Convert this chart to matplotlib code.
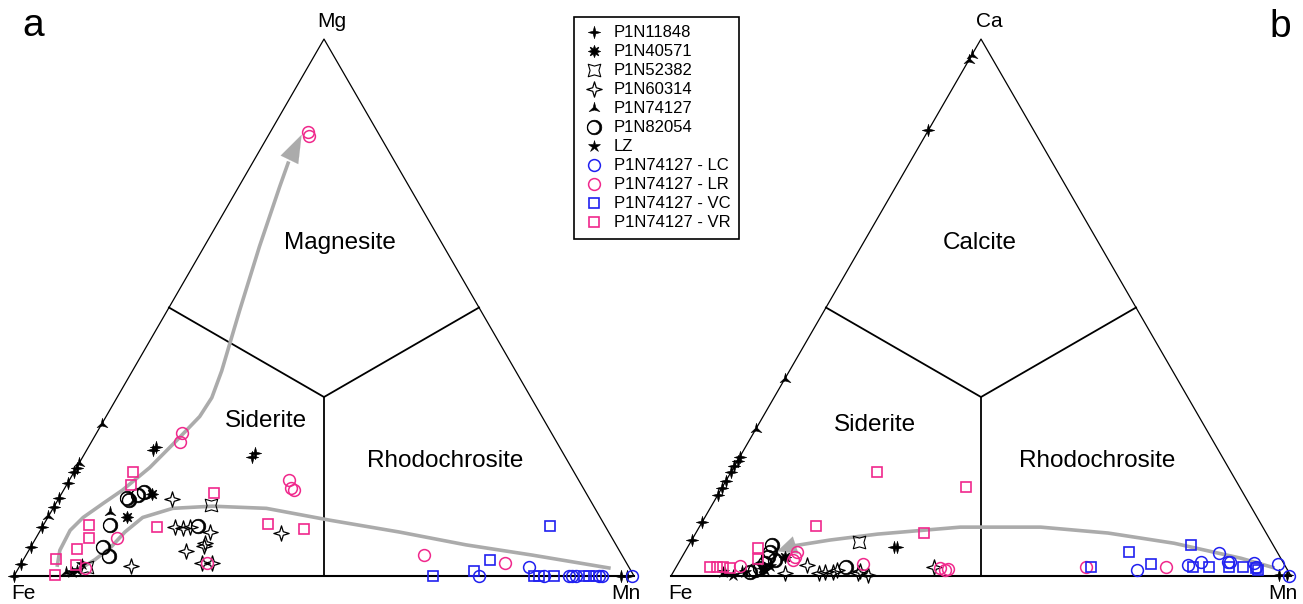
import numpy as np
import matplotlib.pyplot as plt
from matplotlib.lines import Line2D
from matplotlib.path import Path

plt.rcParams["font.family"] = ["Liberation Sans", "DejaVu Sans"]

# Compositions, in percent: (Mn, top apex). Fe is the rest.
# Panel a: Fe - Mn - Mg
A_P1N11848 = [(0, 0), (0, 2.2), (0, 5.4), (0, 9.1), (0, 12.8), (0, 14.5), (0, 17.4), (0, 19.3),
              (0, 20.2), (10.7, 23.4), (10.8, 24.1), (27.3, 22.1), (27.3, 23.0), (97.9, 0), (98.9, 0)]
A_P1N40571 = [(14.6, 15.2), (12.7, 10.9)]
A_P1N52382 = [(25.1, 13.2), (10.9, 1.7)]
A_P1N60314 = [(18.3, 14.3), (21.4, 9.1), (22.8, 8.9), (23.8, 9.1), (27.5, 8.2), (39.1, 8.0),
              (25.4, 4.6), (27.8, 5.6), (27.7, 6.1), (30.8, 2.4), (29.2, 2.4), (17.9, 1.9)]
A_P1N74127 = [(0, 11.1), (0, 21.0), (0, 28.4), (9.5, 11.9), (8.0, 0.7)]
A_P1N82054 = [(10.9, 14.5), (11.5, 14.1), (12.5, 15.0), (13.1, 15.6), (10.7, 9.5), (11.6, 5.4),
              (13.4, 3.7), (25.0, 9.3)]
A_LZ = [(9.6, 1.1), (9.8, 2.2), (9.0, 0.7)]
A_LC = [(75.0, 0), (82.2, 1.7), (85.5, 0), (89.5, 0), (90.0, 0), (90.6, 0), (94.3, 0), (94.8, 0), (99.7, 0)]
A_LR = [(6.0, 82.7), (6.5, 82.0), (13.7, 26.7), (14.2, 25.0), (35.5, 17.8), (36.6, 16.3), (37.1, 16.0),
        (13.1, 7.0), (29.9, 2.4), (10.7, 1.5), (64.1, 3.9), (78.0, 2.4)]
A_VC = [(67.6, 0), (73.8, 0.9), (75.3, 3.0), (81.8, 9.3), (83.9, 0), (84.7, 0), (87.1, 0), (91.9, 0),
        (92.7, 0), (93.9, 0)]
A_VR = [(9.5, 19.3), (10.5, 16.9), (7.3, 9.5), (8.6, 7.0), (7.6, 5.0), (5.2, 3.2), (9.0, 2.0), (6.5, 0.2),
        (24.5, 15.4), (18.5, 9.1), (36.1, 9.6), (42.5, 8.7)]

# Panel b: Fe - Mn - Ca
B_P1N11848 = [(0, 6.7), (0, 10.0), (0, 15.0), (0, 16.3), (0, 17.6), (0, 19.3), (0, 20.4), (0, 21.5),
              (0, 22.2), (0, 83.0), (33.2, 5.4), (33.8, 5.4), (98.0, 0.2), (99.2, 0.2)]
B_P1N40571 = [(16.7, 3.5), (14.1, 1.5)]
B_P1N52382 = [(27.2, 6.3)]
B_P1N60314 = [(21.0, 2.0), (18.1, 0.6), (23.5, 0.6), (24.5, 0.7), (25.7, 0.7), (26.3, 1.1), (29.8, 0.6),
              (31.6, 0.2), (41.5, 1.7), (30.1, 0.9)]
B_P1N74127 = [(0, 97.0), (0, 96.1), (0, 36.7), (0, 27.4), (8.4, 0.6), (11.0, 0.9)]
B_P1N82054 = [(13.5, 5.7), (13.8, 4.4), (13.9, 3.5), (15.3, 3.0), (14.0, 2.4), (13.0, 1.1), (12.4, 0.7),
              (27.3, 1.7), (13.6, 1.5)]
B_LZ = [(8.0, 0.7), (9.9, 0.2), (11.6, 0.7), (14.6, 1.1), (15.0, 1.9)]
B_LC = [(74.6, 1.1), (82.4, 2.0), (84.2, 2.6), (86.2, 4.3), (88.5, 2.6), (88.9, 2.6), (92.9, 2.4),
        (93.5, 1.7), (96.8, 2.2), (99.7, 0)]
B_LR = [(10.2, 1.9), (18.2, 4.4), (18.3, 3.5), (18.2, 3.0), (29.9, 2.2), (42.7, 1.5), (43.7, 1.1),
        (44.1, 1.3), (66.1, 1.7), (79.0, 1.7)]
B_VC = [(66.9, 1.7), (71.7, 4.4), (76.3, 2.2), (81.0, 5.7), (83.3, 1.7), (85.9, 1.7), (89.1, 1.7),
        (91.4, 1.7), (93.6, 1.5), (94.1, 1.1)]
B_VR = [(5.5, 1.7), (6.6, 1.7), (7.6, 1.7), (8.8, 1.5), (11.5, 5.2), (12.5, 3.1), (18.7, 9.4),
        (23.6, 19.3), (36.7, 8.1), (39.3, 16.5)]

# hand-drawn trend arrows (Mn, top), last pair is the arrow tip
A_TREND_MG = [(6.1, 1.7), (5.0, 4.8), (4.8, 8.5), (5.7, 10.9), (7.6, 13.5), (9.5, 16.0), (11.8, 20.2),
              (13.6, 25.2), (15.1, 29.7), (15.3, 33.2), (14.4, 38.2), (11.7, 49.3), (8.9, 61.4),
              (6.6, 72.5), (5.7, 77.2), (5.3, 82.2)]
A_TREND_MN = [(10.3, 1.7), (11.5, 3.0), (12.9, 5.2), (13.8, 8.2), (15.3, 10.9), (19.3, 12.6), (25.5, 13.0),
              (34.4, 12.6), (45.7, 10.4), (58.0, 8.2), (70.0, 5.8), (81.6, 3.9), (95.2, 1.5)]
B_TREND = [(96.6, 1.5), (90.3, 3.3), (78.1, 6.1), (66.5, 8.0), (55.1, 9.1), (42.1, 9.1), (29.4, 7.8),
           (22.3, 6.7), (16.9, 5.6), (14.8, 4.6)]

LABELS = ["P1N11848", "P1N40571", "P1N52382", "P1N60314", "P1N74127", "P1N82054", "LZ",
          "P1N74127 - LC", "P1N74127 - LR", "P1N74127 - VC", "P1N74127 - VR"]

BLUE = "#2020F0"
PINK = "#F0288C"
GREY = "#ABABAB"
SQ3 = np.sqrt(3) / 2
W, H = 1303, 604
SCALE = 620.0
BASE_PX = 576


def star_path(n, inner, rot=0.0):
    ang = np.linspace(0, 2 * np.pi, 2 * n, endpoint=False) + np.pi / 2 + rot
    r = np.where(np.arange(2 * n) % 2 == 0, 1.0, inner)
    v = np.column_stack([r * np.cos(ang), r * np.sin(ang)])
    v = np.vstack([v, v[:1]])
    return Path(v, [Path.MOVETO] + [Path.LINETO] * (2 * n - 1) + [Path.CLOSEPOLY])


def crescent_path():
    t = np.linspace(0, 2 * np.pi, 64)
    outer = np.column_stack([np.cos(t), np.sin(t)])
    inner = np.column_stack([-0.1 + 0.82 * np.cos(-t), 0.82 * np.sin(-t)])
    codes = [Path.MOVETO] + [Path.LINETO] * 62 + [Path.CLOSEPOLY]
    return Path(np.vstack([outer, inner]), codes * 2)


STYLES = [
    dict(marker=star_path(4, 0.3), ms=9, mfc="black", mec="black", mew=0.4),
    dict(marker=(8, 1, 0), ms=9, mfc="black", mec="black", mew=0.4),
    dict(marker=star_path(4, 0.5, np.pi / 4), ms=9, mfc="none", mec="black", mew=0.8),
    dict(marker=star_path(4, 0.33), ms=11, mfc="none", mec="black", mew=0.9),
    dict(marker=star_path(3, 0.25), ms=9, mfc="black", mec="black", mew=0.4),
    dict(marker=crescent_path(), ms=10.5, mfc="black", mec="black", mew=0.5),
    dict(marker="*", ms=9, mfc="black", mec="black", mew=0.4),
    dict(marker="o", ms=8.5, mfc="none", mec=BLUE, mew=1.1),
    dict(marker="o", ms=8.5, mfc="none", mec=PINK, mew=1.1),
    dict(marker="s", ms=7.7, mfc="none", mec=BLUE, mew=1.2),
    dict(marker="s", ms=7.7, mfc="none", mec=PINK, mew=1.2),
]


def tern(pts):
    a = np.asarray(pts, float) / 100.0
    return a[:, 0] + a[:, 1] / 2.0, a[:, 1] * SQ3


def make_axes(fig, left_px, right_px, fe_px):
    ax = fig.add_axes([left_px / W, 0, (right_px - left_px) / W, 1])
    ax.set_xlim((left_px - fe_px) / SCALE, (right_px - fe_px) / SCALE)
    ax.set_ylim(-(H - BASE_PX) / SCALE, BASE_PX / SCALE)
    ax.axis("off")
    return ax


def draw_frame(ax, top_label, regions):
    ax.plot([0, 0.5, 1], [0, SQ3, 0], color="black", lw=0.9, zorder=1)
    ax.plot([0, 1], [0, 0], color="black", lw=1.5, zorder=1)
    c = SQ3 / 3
    ax.plot([0.25, 0.5, 0.75], [SQ3 / 2, c, SQ3 / 2], color="black", lw=1.3, zorder=1)
    ax.plot([0.5, 0.5], [c, 0], color="black", lw=1.3, zorder=1)

    kw = dict(textcoords="offset pixels", ha="center", va="baseline", fontsize=15)
    ax.annotate("Fe", xy=(0, 0), xytext=(9, -23), **kw)
    ax.annotate("Mn", xy=(1, 0), xytext=(-8, -23), **kw)
    ax.annotate(top_label, xy=(0.5, SQ3), xytext=(8, 12), **kw)

    for text, x, y in regions:
        ax.text(x, y, text, ha="center", va="baseline", fontsize=17.5)


def draw_trend(ax, pts, arrow=False, head=(1.8, 0.65)):
    x, y = tern(pts)
    if arrow:
        ax.plot(x[:-1], y[:-1], color=GREY, lw=2.6, solid_capstyle="butt",
                solid_joinstyle="round", zorder=2)
        ax.annotate("", xy=(x[-1], y[-1]), xytext=(x[-2], y[-2]),
                    arrowprops=dict(arrowstyle=f"-|>,head_length={head[0]},head_width={head[1]}",
                                    color=GREY, lw=0.1, shrinkA=0, shrinkB=0), zorder=2)
    else:
        ax.plot(x, y, color=GREY, lw=2.6, solid_joinstyle="round", zorder=2)


def draw_points(ax, groups):
    for pts, style in zip(groups, STYLES):
        x, y = tern(pts)
        ax.plot(x, y, linestyle="none", clip_on=False, zorder=3, **style)


fig = plt.figure(figsize=(W / 100, H / 100), dpi=100)

ax_a = make_axes(fig, 0, 655, 14)
draw_frame(ax_a, "Mg", [("Magnesite", 0.526, 0.527), ("Siderite", 0.406, 0.240),
                        ("Rhodochrosite", 0.695, 0.176)])
draw_trend(ax_a, A_TREND_MG, arrow=True, head=(2.0, 0.7))
draw_trend(ax_a, A_TREND_MN)
draw_points(ax_a, [A_P1N11848, A_P1N40571, A_P1N52382, A_P1N60314, A_P1N74127, A_P1N82054, A_LZ,
                   A_LC, A_LR, A_VC, A_VR])

ax_b = make_axes(fig, 655, W, 671)
draw_frame(ax_b, "Ca", [("Calcite", 0.498, 0.527), ("Siderite", 0.329, 0.234),
                        ("Rhodochrosite", 0.687, 0.176)])
draw_trend(ax_b, B_TREND, arrow=True, head=(1.4, 0.65))
draw_points(ax_b, [B_P1N11848, B_P1N40571, B_P1N52382, B_P1N60314, B_P1N74127, B_P1N82054, B_LZ,
                   B_LC, B_LR, B_VC, B_VR])

fig.text(22 / W, 1 - 36 / H, "a", fontsize=28, va="baseline", ha="left")
fig.text(1269 / W, 1 - 37 / H, "b", fontsize=28, va="baseline", ha="left")

handles = [Line2D([], [], linestyle="none", **style) for style in STYLES]
leg = fig.legend(handles, LABELS, loc="upper left", bbox_to_anchor=(574 / W, 1 - 17 / H),
                 borderaxespad=0, fontsize=12, frameon=True, fancybox=False, framealpha=1,
                 edgecolor="black", borderpad=0.5, handlelength=1.4, handletextpad=0.5,
                 labelspacing=0.24)
leg.get_frame().set_linewidth(1.2)

fig.savefig("out.png", dpi=100)
plt.close(fig)
